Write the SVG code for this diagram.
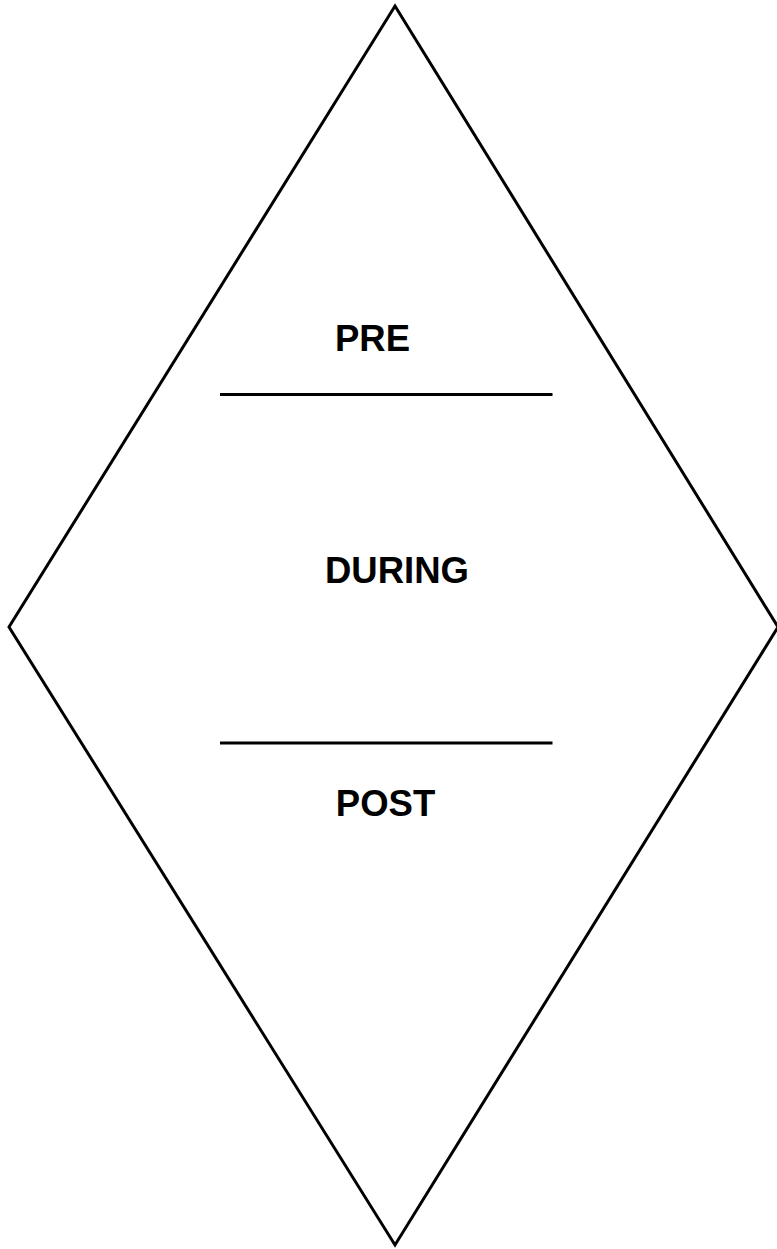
<svg xmlns="http://www.w3.org/2000/svg" width="777" height="1249" viewBox="0 0 777 1249">
<style>
.shape{fill:none;stroke:#000;stroke-width:3;stroke-linejoin:miter}
.div{stroke:#000;stroke-width:3}
.lbl{font-family:"Liberation Sans",Arial,sans-serif;font-weight:bold;font-size:36.5px;fill:#000;text-anchor:middle}
</style>
<rect width="777" height="1249" fill="#fff"/>
<g id="diamond">
<polygon class="shape" points="395,6 778,627 395,1245 9,627"/>
</g>
<g id="dividers">
<line class="div" x1="220" y1="394.5" x2="552.5" y2="394.5"/>
<line class="div" x1="220" y1="743" x2="552.5" y2="743"/>
</g>
<g id="pre"><text class="lbl" x="372.5" y="350.5">PRE</text></g>
<g id="during"><text class="lbl" x="397" y="583">DURING</text></g>
<g id="post"><text class="lbl" x="385.5" y="815.5">POST</text></g>
</svg>
